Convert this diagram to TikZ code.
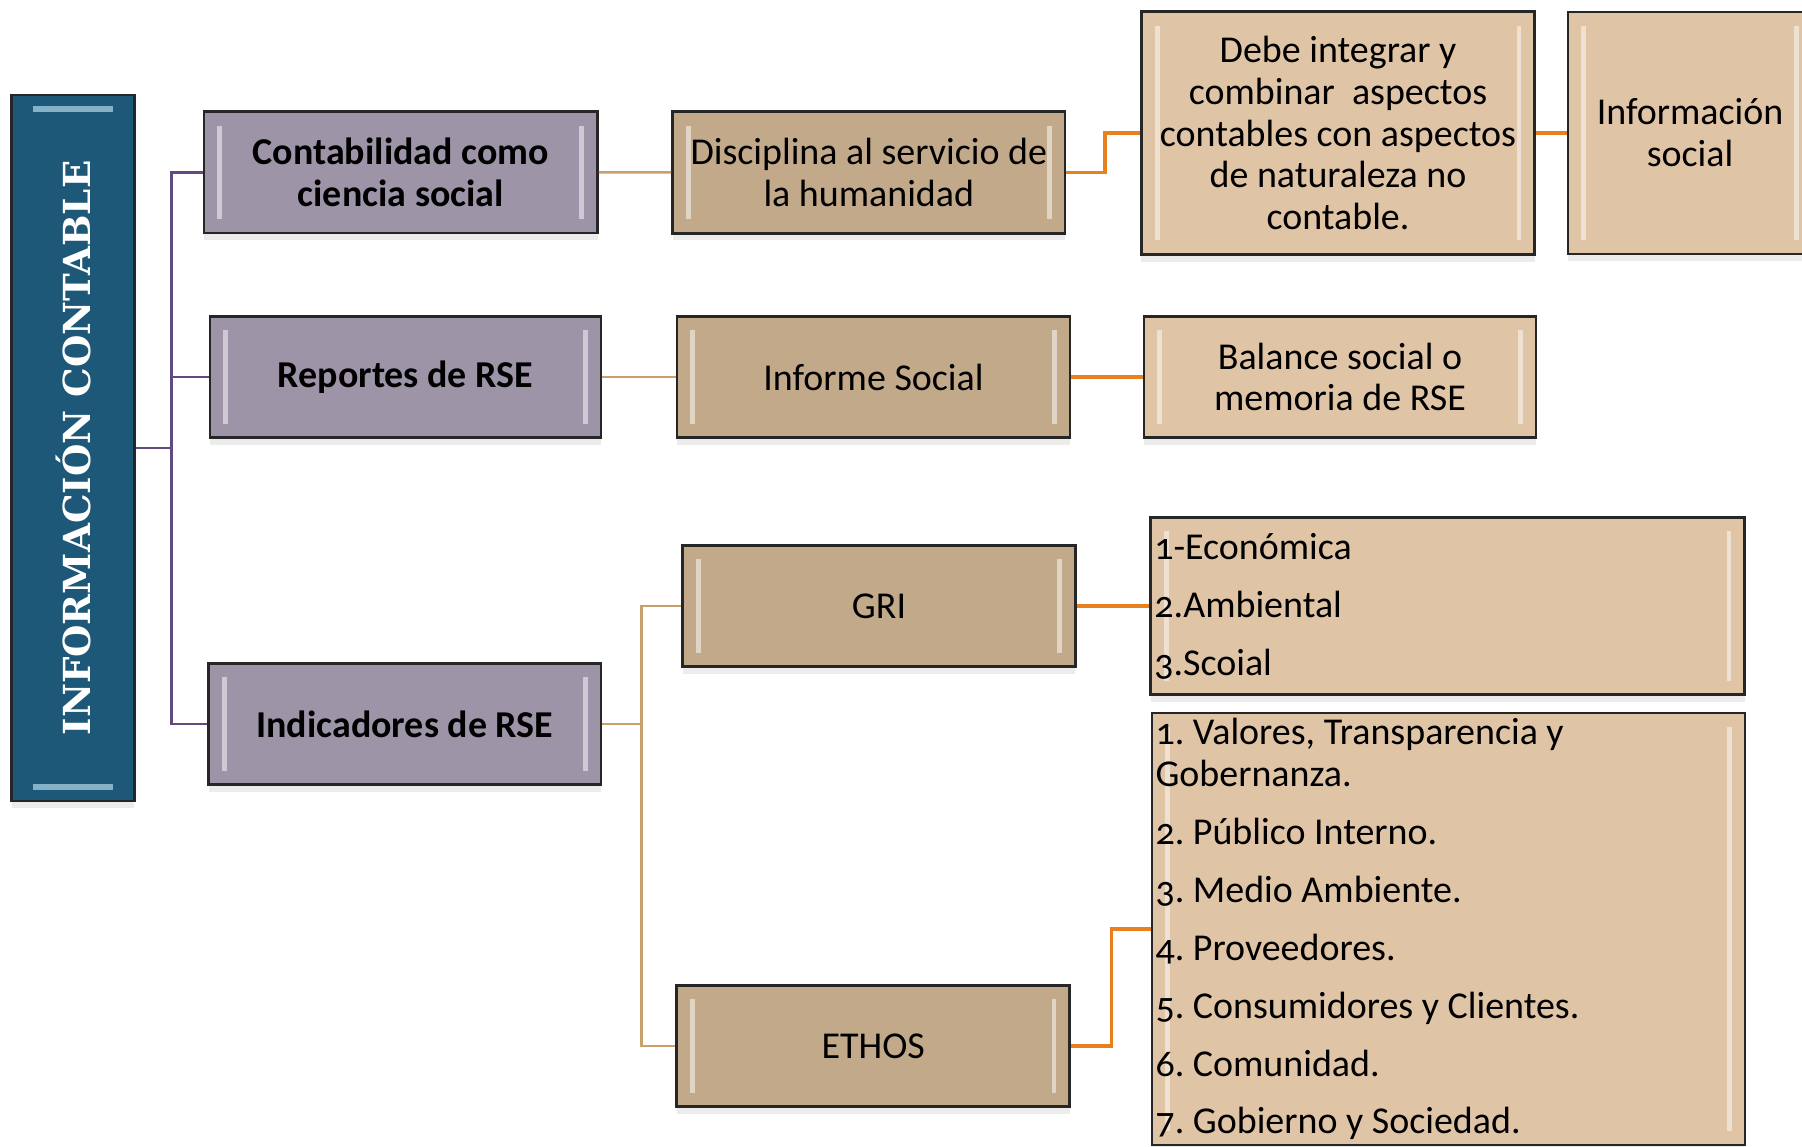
\documentclass[tikz,border=0pt]{standalone}
\usepackage{graphicx}
\usepackage{fontspec}
\setmainfont{Carlito}[Numbers=OldStyle]
\newfontfamily\titlefont{DejaVu Serif}
\usetikzlibrary{shadows}
\definecolor{headblue}{HTML}{1E5878}
\definecolor{lilac}{HTML}{9E94A8}
\definecolor{boxtan}{HTML}{C2A98A}
\definecolor{peach}{HTML}{DFC4A6}
\definecolor{purpwire}{HTML}{604A80}
\definecolor{tanwire}{HTML}{C9A06C}
\definecolor{orwire}{HTML}{E8801E}
\frenchspacing
\begin{document}
\begin{tikzpicture}
        \tikzstyle{bevel} = [path picture={\draw[white,opacity=.5,line width=1.4pt]
            ([xshift=4.5pt,yshift=-4pt]path picture bounding box.north west) -- ([xshift=4.5pt,yshift=4pt]path picture bounding box.south west)
            ([xshift=-4.5pt,yshift=-4pt]path picture bounding box.north east) -- ([xshift=-4.5pt,yshift=4pt]path picture bounding box.south east);}]
        \tikzstyle{hbevel} = [path picture={\draw[white!80!cyan,opacity=.6,line width=1.6pt]
            ([xshift=6pt,yshift=-4pt]path picture bounding box.north west) -- ([xshift=-6pt,yshift=-4pt]path picture bounding box.north east)
            ([xshift=6pt,yshift=4pt]path picture bounding box.south west) -- ([xshift=-6pt,yshift=4pt]path picture bounding box.south east);}]
        \tikzstyle{block} = [rectangle, text=black, align=center, draw=black!85, line width=.8pt, font=\fontsize{10.8}{11.9}\selectfont, minimum height=1.215cm, inner sep=2pt, drop shadow={shadow xshift=0pt,shadow yshift=-2pt,opacity=.15}]
        \tikzstyle{list} = [block, bevel, align=flush left, inner xsep=1pt, inner ysep=0pt]
        \tikzstyle{purp} = [draw=purpwire,line width=.7pt]
        \tikzstyle{tanl} = [draw=tanwire,line width=.7pt]
        \tikzstyle{orl} = [draw=orwire,line width=.9pt]
        \useasboundingbox (0,0) rectangle (18.02,11.47);
        % titulo
        \node[block,hbevel,fill=headblue,text=white,minimum width=1.226cm,minimum height=7.06cm,font=\titlefont\bfseries\fontsize{10.6}{12}\selectfont] (title) at (0.73,6.99) {\rotatebox{90}{INFORMACIÓN CONTABLE}};
        % primera columna
        \node[block,bevel,fill=lilac,minimum width=3.935cm,font=\fontsize{10.8}{11.9}\selectfont\bfseries] (cont) at (4.008,9.747) {Contabilidad como\\ciencia social};
        \node[block,bevel,fill=lilac,minimum width=3.91cm,font=\fontsize{10.8}{11.9}\selectfont\bfseries] (rep) at (4.055,7.70) {Reportes de RSE};
        \node[block,bevel,fill=lilac,minimum width=3.925cm,font=\fontsize{10.8}{11.9}\selectfont\bfseries] (ind) at (4.048,4.23) {Indicadores de RSE};
        % segunda columna
        \node[block,bevel,fill=boxtan,minimum width=3.925cm] (disc) at (8.688,9.745) {Disciplina al servicio de\\la humanidad};
        \node[block,bevel,fill=boxtan,minimum width=3.93cm] (inf) at (8.735,7.70) {Informe Social};
        \node[block,bevel,fill=boxtan,minimum width=3.925cm] (gri) at (8.79,5.41) {GRI};
        \node[block,bevel,fill=boxtan,minimum width=3.93cm] (ethos) at (8.733,1.01) {ETHOS};
        % tercera columna
        \node[block,bevel,fill=peach,minimum width=3.935cm,minimum height=2.43cm] (debe) at (13.38,10.14) {Debe integrar y\\combinar~ aspectos\\contables con aspectos\\de naturaleza no\\contable.};
        \node[block,bevel,fill=peach,minimum width=2.44cm,minimum height=2.42cm] (isoc) at (16.90,10.14) {Información\\social};
        \node[block,bevel,fill=peach,minimum width=3.92cm] (bal) at (13.40,7.70) {Balance social o\\memoria de RSE};
        \node[list,fill=peach,text width=5.87cm,minimum height=1.776cm] (grilist) at (14.478,5.41) {1-Económica\\[4.6pt]2.Ambiental\\[4.6pt]3.Scoial};
        \node[list,fill=peach,text width=5.86cm,minimum height=4.32cm] (ethlist) at (14.485,2.18) {1. Valores, Transparencia y\\Gobernanza.\\[4.6pt]2. Público Interno.\\[4.6pt]3. Medio Ambiente.\\[4.6pt]4. Proveedores.\\[4.6pt]5. Consumidores y Clientes.\\[4.6pt]6. Comunidad.\\[4.6pt]7. Gobierno y Sociedad.};
        % conectores
        \draw[purp] (title.east) -- ++(0.357,0) |- (cont.west);
        \draw[purp] (title.east) -- ++(0.357,0) |- (rep.west);
        \draw[purp] (title.east) -- ++(0.357,0) |- (ind.west);
        \draw[tanl] (cont.east) to (disc.west);
        \draw[tanl] (rep.east) to (inf.west);
        \draw[tanl] (ind.east) -- ++(0.39,0) |- (gri.west);
        \draw[tanl] (ind.east) -- ++(0.39,0) |- (ethos.west);
        \draw[orl] (disc.east) -- ++(0.385,0) |- (debe.west);
        \draw[orl] (debe.east) to (isoc.west);
        \draw[orl] (inf.east) to (bal.west);
        \draw[orl] (gri.east) to (grilist.west);
        \draw[orl] (ethos.east) -- ++(0.40,0) |- (ethlist.west);
\end{tikzpicture}
\end{document}
